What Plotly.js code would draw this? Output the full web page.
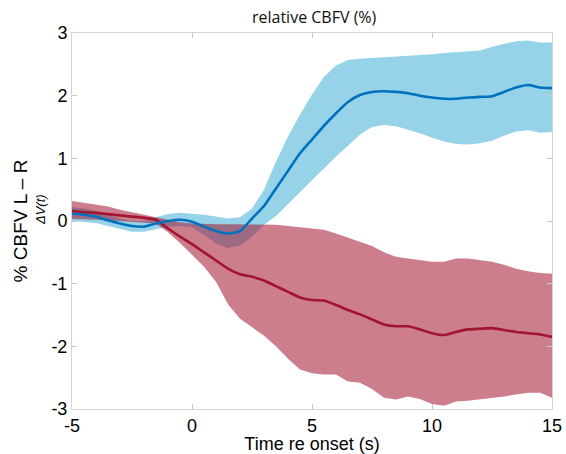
<!DOCTYPE html>
<html>
<head>
<meta charset="utf-8">
<script src="https://cdn.plot.ly/plotly-3.0.1.min.js"></script>
<style>html,body{margin:0;padding:0;background:#fff;}</style>
</head>
<body>
<div id="chart" style="width:566px;height:454px;"></div>
<script>
// Time (s) re onset
const time = [-5,-4.5,-4,-3.5,-3,-2.5,-2,-1.5,-1,-0.5,0,0.5,1,1.5,2,2.5,3,3.5,4,4.5,5,5.5,6,6.5,7,7.5,8,8.5,9,9.5,10,10.5,11,11.5,12,12.5,13,13.5,14,14.5,15];

// Blue series (mean, upper, lower)
const blueMean  = [0.12,0.10,0.07,0.01,-0.04,-0.08,-0.09,-0.04,0.0,0.02,-0.01,-0.09,-0.16,-0.20,-0.16,0.04,0.24,0.52,0.80,1.08,1.30,1.52,1.72,1.90,2.01,2.06,2.07,2.06,2.04,2.00,1.97,1.95,1.95,1.97,1.98,1.99,2.06,2.13,2.17,2.13,2.12];
const blueUpper = [0.22,0.20,0.16,0.10,0.04,0.00,0.00,0.06,0.11,0.13,0.12,0.10,0.07,0.04,0.06,0.20,0.50,0.95,1.35,1.70,2.02,2.30,2.48,2.57,2.59,2.60,2.62,2.63,2.64,2.65,2.66,2.68,2.69,2.70,2.72,2.78,2.83,2.87,2.88,2.85,2.85];
const blueLower = [0.00,-0.01,-0.03,-0.08,-0.13,-0.17,-0.17,-0.13,-0.09,-0.08,-0.10,-0.22,-0.36,-0.43,-0.39,-0.25,-0.06,0.08,0.27,0.45,0.64,0.83,1.03,1.20,1.38,1.50,1.53,1.51,1.46,1.40,1.33,1.27,1.23,1.22,1.24,1.28,1.36,1.43,1.45,1.41,1.42];

// Red series (mean, upper, lower)
const redMean  = [0.16,0.14,0.13,0.11,0.09,0.07,0.05,0.02,-0.12,-0.25,-0.37,-0.50,-0.63,-0.76,-0.85,-0.89,-0.95,-1.04,-1.13,-1.22,-1.26,-1.27,-1.34,-1.42,-1.49,-1.57,-1.65,-1.68,-1.68,-1.73,-1.79,-1.82,-1.77,-1.73,-1.72,-1.71,-1.74,-1.77,-1.79,-1.81,-1.85];
const redUpper = [0.32,0.29,0.27,0.23,0.18,0.14,0.10,0.06,0.01,-0.02,-0.04,-0.05,-0.05,-0.05,-0.05,-0.05,-0.05,-0.06,-0.08,-0.10,-0.12,-0.14,-0.20,-0.27,-0.34,-0.40,-0.50,-0.57,-0.60,-0.62,-0.65,-0.65,-0.60,-0.60,-0.62,-0.65,-0.70,-0.76,-0.80,-0.83,-0.84];
const redLower = [0.03,0.03,0.02,0.01,0.00,-0.01,-0.02,-0.04,-0.18,-0.35,-0.54,-0.73,-0.97,-1.33,-1.56,-1.70,-1.83,-2.00,-2.20,-2.37,-2.43,-2.45,-2.45,-2.56,-2.58,-2.68,-2.82,-2.85,-2.80,-2.84,-2.92,-2.95,-2.88,-2.87,-2.85,-2.83,-2.80,-2.77,-2.74,-2.74,-2.82];

const xTicks = [-5,0,5,10,15];
const yTicks = [-3,-2,-1,0,1,2,3];

const traces = [
  {x: time, y: blueLower, type:'scatter', mode:'lines', line:{width:0, color:'rgba(0,0,0,0)'}, hoverinfo:'skip', showlegend:false},
  {x: time, y: blueUpper, type:'scatter', mode:'lines', line:{width:0, color:'rgba(0,0,0,0)'}, fill:'tonexty', fillcolor:'rgb(150,211,233)', hoverinfo:'skip', showlegend:false},
  {x: time, y: redLower, type:'scatter', mode:'lines', line:{width:0, color:'rgba(0,0,0,0)'}, hoverinfo:'skip', showlegend:false},
  {x: time, y: redUpper, type:'scatter', mode:'lines', line:{width:0, color:'rgba(0,0,0,0)'}, fill:'tonexty', fillcolor:'rgba(162,20,47,0.55)', hoverinfo:'skip', showlegend:false},
  {x: time, y: redMean, type:'scatter', mode:'lines', line:{width:2.6, color:'#A2142F', shape:'spline', smoothing:0.6}, showlegend:false},
  {x: time, y: blueMean, type:'scatter', mode:'lines', line:{width:2.6, color:'#0072BD', shape:'spline', smoothing:0.6}, showlegend:false}
];

const axisFont = {family:'Liberation Sans, Arial, sans-serif', size:18, color:'#000'};

const layout = {
  width:566, height:454,
  margin:{l:72, r:14, t:33, b:45},
  paper_bgcolor:'#fff', plot_bgcolor:'#fff',
  showlegend:false,
  title:{text:'relative CBFV (%)', font:{family:'Open Sans, sans-serif', size:16, color:'#111'}, x:0.555, xanchor:'center', y:0.962, yanchor:'middle'},
  xaxis:{
    range:[-5,15], tickvals:xTicks, ticktext:xTicks.map(String),
    showgrid:false, zeroline:false, showline:true, linecolor:'#d4d4d4', linewidth:1, mirror:'ticks',
    ticks:'inside', ticklen:5, tickcolor:'#c8c8c8', tickfont:axisFont,
    title:{text:'Time re onset (s)', font:{family:'Liberation Sans, Arial, sans-serif', size:18, color:'#000'}, standoff:0}
  },
  yaxis:{
    range:[-3,3], tickvals:yTicks, ticktext:yTicks.map(String),
    showgrid:false, zeroline:false, showline:true, linecolor:'#d4d4d4', linewidth:1, mirror:'ticks',
    ticks:'inside', ticklen:5, tickcolor:'#c8c8c8', tickfont:axisFont,
    title:{text:'% CBFV L \u2013 R', font:{family:'Liberation Sans, Arial, sans-serif', size:19, color:'#000'}, standoff:18}
  },
  annotations:[
    {text:'<i>\u0394V(t)</i>', xref:'paper', yref:'paper', x:-0.066, y:0.53, xanchor:'center', yanchor:'middle', textangle:-90, showarrow:false, font:{family:'Liberation Sans, Arial, sans-serif', size:13, color:'#000'}}
  ]
};

Plotly.newPlot('chart', traces, layout, {staticPlot:true, displayModeBar:false});
</script>
</body>
</html>
